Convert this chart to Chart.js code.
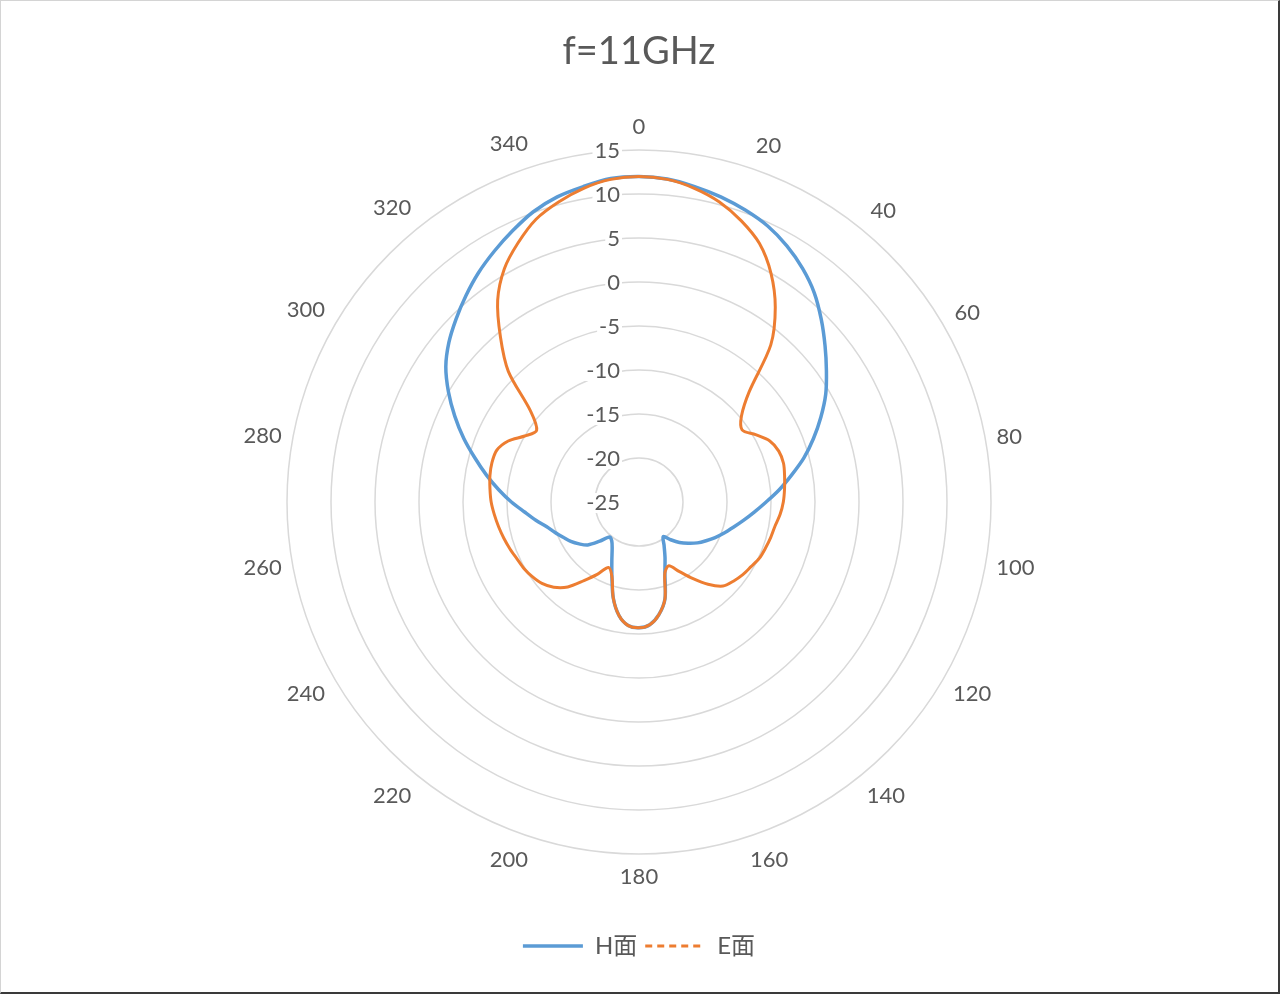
<!DOCTYPE html>
<html lang="zh">
<head>
<meta charset="UTF-8">
<title>f=11GHz</title>
<script src="https://cdn.jsdelivr.net/npm/chart.js"></script>
<style>
  html, body { margin: 0; padding: 0; background: #fff; }
  #wrap { position: relative; width: 1280px; height: 994px; }
  #frame {
    position: absolute; left: 0; top: 0; width: 1280px; height: 994px;
    box-sizing: border-box; pointer-events: none;
    border-top: 1px solid #d4d4d4; border-left: 1px solid #d4d4d4;
    border-right: 2px solid #3a3a3a; border-bottom: 2px solid #3a3a3a;
  }
</style>
</head>
<body>
<div id="wrap">
  <canvas id="patternChart" width="1280" height="994"></canvas>
  <div id="frame"></div>
</div>
<script>
// angle in degrees, 0 at top, clockwise
const angles = [0, 5, 10, 15, 20, 25, 30, 35, 40, 45, 50, 55, 60, 65, 70, 75, 80, 85,
  90, 95, 100, 105, 110, 115, 120, 125, 130, 135, 140, 145, 150, 155, 160, 165, 170, 175,
  180, 185, 190, 195, 200, 205, 210, 215, 220, 225, 230, 235, 240, 245, 250, 255, 260, 265,
  270, 275, 280, 285, 290, 295, 300, 305, 310, 315, 320, 325, 330, 335, 340, 345, 350, 355];

// H-plane (blue)
const hPlane = [12.0, 11.85, 11.4, 10.9, 10.3, 9.6, 8.6, 7.4, 6.0, 4.3, 2.6, 1.0, -0.5, -2.2, -3.9, -5.6, -7.4, -9.0,
  -10.55, -11.85, -12.95, -13.9, -14.7, -15.45, -16.2, -16.9, -17.7, -18.5, -19.4, -20.2, -19.3, -18.0, -16.4, -13.6, -12.0, -11.0,
  -10.7, -10.9, -11.9, -13.7, -16.0, -17.7, -18.9, -19.6, -19.8, -18.7, -17.4, -16.7, -16.05, -15.5, -14.85, -14.15, -13.1, -11.95,
  -10.5, -9.0, -7.4, -5.7, -3.8, -1.9, 0.0, 1.8, 3.2, 4.4, 5.6, 6.8, 7.9, 9.0, 10.1, 10.9, 11.4, 11.9];

// E-plane (orange)
const ePlane = [12.0, 11.8, 11.2, 10.3, 9.0, 7.4, 5.0, 2.0, -1.7, -7.3, -9.8, -10.7, -9.7, -8.6, -8.1, -8.0, -8.2, -8.4,
  -8.6, -8.9, -9.3, -9.5, -9.7, -9.9, -10.3, -10.6, -11.0, -11.5, -12.8, -14.4, -15.9, -17.0, -16.4, -13.6, -12.0, -11.0,
  -10.7, -10.9, -11.9, -13.7, -16.0, -16.8, -15.5, -14.1, -12.4, -11.3, -10.6, -10.2, -9.9, -9.7, -9.4, -9.1, -8.8, -8.5,
  -8.2, -8.0, -7.8, -7.7, -7.8, -8.6, -10.0, -10.8, -8.9, -4.0, -0.5, 3.0, 5.6, 7.5, 9.2, 10.3, 11.2, 11.8];

const ringTicks = [15, 10, 5, 0, -5, -10, -15, -20, -25];
const angleLabelStep = 20;

const textColor = '#595959';
const fontFamily = 'Lato, "Noto Sans CJK SC", sans-serif';

// Excel-style labels: ring values left of the vertical axis, angle labels centred outside the rim
const excelLabels = {
  id: 'excelLabels',
  beforeDatasetsDraw(chart) {
    const scale = chart.scales.r;
    const ctx = chart.ctx;
    ctx.save();
    ctx.font = '22px ' + fontFamily;
    ctx.textBaseline = 'middle';

    ctx.textAlign = 'right';
    ringTicks.forEach(v => {
      const y = scale.yCenter - scale.getDistanceFromCenterForValue(v) + 1;
      const x = scale.xCenter - 19;
      const text = String(v);
      const w = ctx.measureText(text).width;
      ctx.fillStyle = '#fff';
      ctx.fillRect(x - w - 2, y - 10, w + 4, 20);
      ctx.fillStyle = textColor;
      ctx.fillText(text, x, y);
    });

    ctx.textAlign = 'center';
    ctx.fillStyle = textColor;
    angles.forEach((a, i) => {
      if (a % angleLabelStep !== 0) return;
      const text = String(a);
      const w = ctx.measureText(text).width;
      const rad = a * Math.PI / 180;
      const off = Math.abs(Math.sin(rad)) * w / 2 + Math.abs(Math.cos(rad)) * 14;
      const p = scale.getPointPosition(i, scale.drawingArea + 9 + off);
      ctx.fillText(text, p.x, p.y);
    });
    ctx.restore();
  }
};

const ctx = document.getElementById('patternChart').getContext('2d');
const chart = new Chart(ctx, {
  type: 'radar',
  data: {
    labels: angles,
    datasets: [
      {
        label: 'H面',
        data: hPlane,
        borderColor: '#5B9BD5',
        backgroundColor: '#5B9BD5',
        borderWidth: 3.5,
        pointRadius: 0,
        fill: false,
        tension: 0.3,
        order: 1
      },
      {
        label: 'E面',
        data: ePlane,
        borderColor: '#ED7D31',
        backgroundColor: '#ED7D31',
        borderWidth: 3,
        pointRadius: 0,
        fill: false,
        tension: 0.3,
        order: 0
      }
    ]
  },
  options: {
    responsive: false,
    animation: false,
    layout: {
      padding: { left: 287, right: 289, top: 0, bottom: 26 }
    },
    scales: {
      r: {
        min: -25,
        max: 15,
        ticks: { stepSize: 5, display: false },
        grid: { circular: true, color: '#d9d9d9', lineWidth: 1.5 },
        angleLines: { display: false },
        pointLabels: { display: false }
      }
    },
    plugins: {
      title: {
        display: true,
        text: 'f=11GHz',
        color: textColor,
        font: { size: 38, family: fontFamily, weight: 'normal' },
        padding: { top: 29, bottom: 3.4 }
      },
      legend: {
        position: 'bottom',
        labels: {
          color: textColor,
          font: { size: 24, family: fontFamily },
          padding: 8,
          usePointStyle: true,
          pointStyle: 'line',
          pointStyleWidth: 60,
          sort: (a, b) => a.datasetIndex - b.datasetIndex,
          generateLabels(chart) {
            const items = Chart.defaults.plugins.legend.labels.generateLabels(chart);
            items.forEach(it => {
              it.pointStyle = 'line';
              if (it.datasetIndex === 1) it.lineDash = [7, 5];
            });
            return items;
          }
        }
      },
      tooltip: { enabled: false }
    }
  },
  plugins: [excelLabels]
});
</script>
</body>
</html>
